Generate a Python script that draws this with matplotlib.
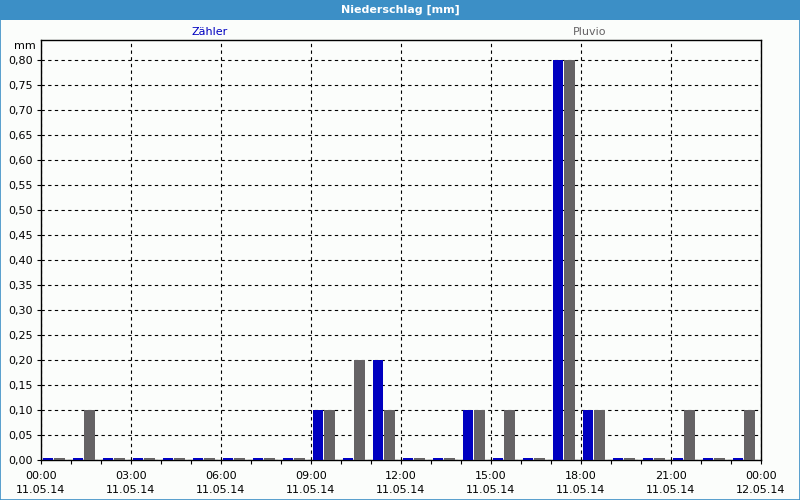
import matplotlib.pyplot as plt
from matplotlib.patches import Rectangle

# hourly precipitation, 11.05.14 00:00 .. 12.05.14 00:00
hours = list(range(24))
zaehler = [0, 0, 0, 0, 0, 0, 0, 0, 0, 0.10, 0, 0.20,
           0, 0, 0.10, 0, 0, 0.80, 0.10, 0, 0, 0, 0, 0]
pluvio = [0, 0.10, 0, 0, 0, 0, 0, 0, 0, 0.10, 0.20, 0.10,
          0, 0, 0.10, 0.10, 0, 0.80, 0.10, 0, 0, 0.10, 0, 0.10]

xticks = [0, 3, 6, 9, 12, 15, 18, 21, 24]
xlabels = ['00:00\n11.05.14', '03:00\n11.05.14', '06:00\n11.05.14',
           '09:00\n11.05.14', '12:00\n11.05.14', '15:00\n11.05.14',
           '18:00\n11.05.14', '21:00\n11.05.14', '00:00\n12.05.14']
yticks = [i * 0.05 for i in range(17)]
ylabels = [f'{v:.2f}'.replace('.', ',') for v in yticks]

blue = '#0000c0'
grey = '#656365'
frame = '#3c8fc6'
stub = 0.005  # zero values are still drawn as a small stub

fig = plt.figure(figsize=(8, 5), dpi=100, facecolor='#fbfdfb')

# title bar and window border
fig.patches.append(Rectangle((0, 0.96), 1, 0.04, transform=fig.transFigure,
                             facecolor=frame, edgecolor='none', zorder=0))
fig.patches.append(Rectangle((0.0006, 0.001), 0.9988, 0.998, transform=fig.transFigure,
                             facecolor='none', edgecolor=frame, linewidth=1.2, zorder=5))
fig.text(0.5, 0.98, 'Niederschlag [mm]', color='white', fontsize=8,
         fontweight='bold', ha='center', va='center')

ax = fig.add_axes([0.05125, 0.08, 0.9, 0.84])
ax.set_facecolor('#fbfdfb')

ax.bar([h + 0.05 for h in hours], [max(v, stub) for v in zaehler], width=0.35,
       align='edge', color=blue, linewidth=0, zorder=3)
ax.bar([h + 0.44 for h in hours], [max(v, stub) for v in pluvio], width=0.36,
       align='edge', color=grey, linewidth=0, zorder=3)

ax.set_xlim(0, 24)
ax.set_ylim(0, 0.84)
ax.set_xticks(xticks)
ax.set_xticklabels(xlabels, fontsize=8, linespacing=1.5)
ax.set_xticks(hours, minor=True)
ax.set_yticks(yticks)
ax.set_yticklabels(ylabels, fontsize=8)
ax.tick_params(axis='both', which='both', direction='out', length=3,
               width=0.8, colors='black', pad=3)
ax.tick_params(axis='x', which='major', pad=5)

ax.grid(True, which='major', color='black', linestyle=(0, (3, 3)), linewidth=0.8, zorder=1)
for s in ax.spines.values():
    s.set_color('black')
    s.set_linewidth(1.0)

fig.text(0.045, 0.908, 'mm', fontsize=8, ha='right', va='center')
fig.text(0.2625, 0.936, 'Zähler', fontsize=8, color=blue, ha='center', va='center')
fig.text(0.7375, 0.936, 'Pluvio', fontsize=8, color=grey, ha='center', va='center')

fig.savefig('out.png', dpi=100, facecolor=fig.get_facecolor())
